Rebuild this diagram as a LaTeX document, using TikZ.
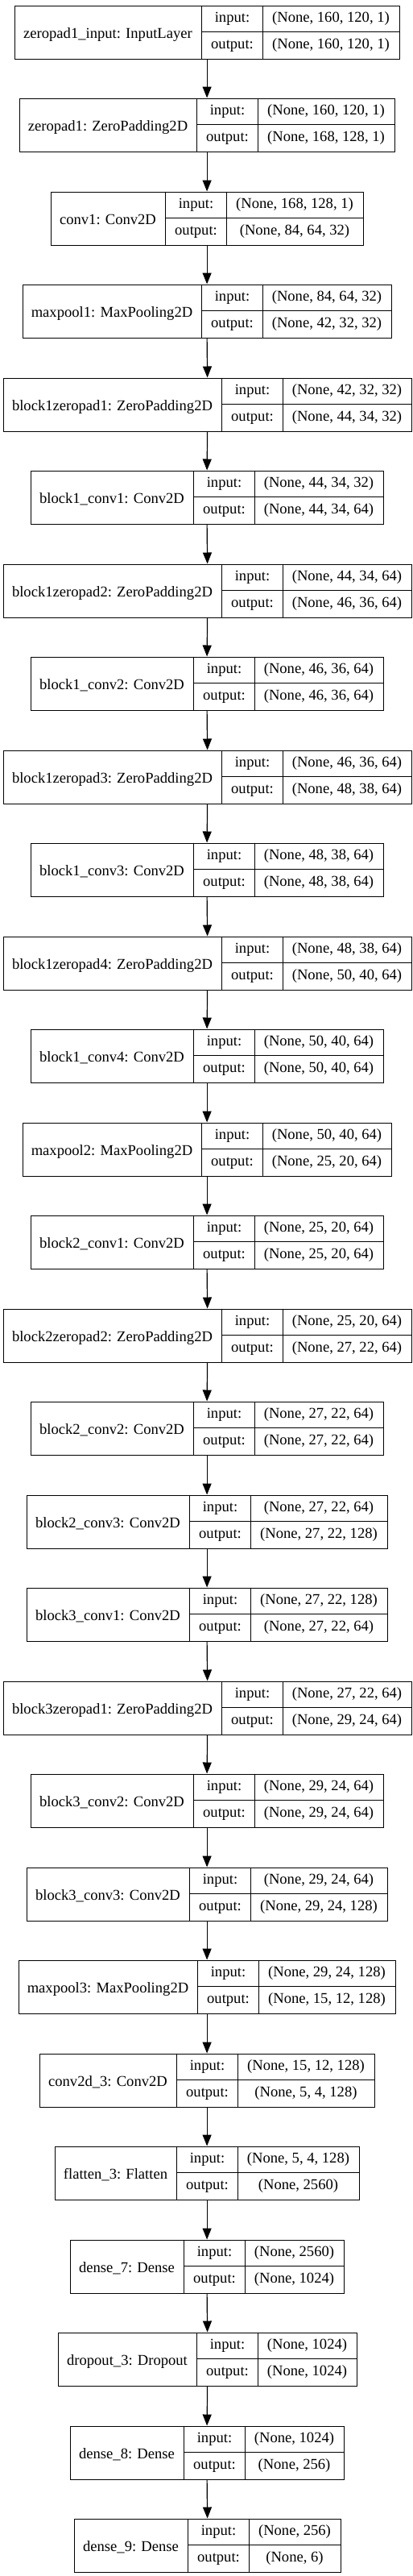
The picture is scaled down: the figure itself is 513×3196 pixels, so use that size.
\documentclass[tikz,border=0pt]{standalone}
\usepackage{fontspec}
\setmainfont{Liberation Serif}
\usetikzlibrary{arrows.meta}
\newlength\kwa \newlength\kwb \newlength\kwc \newlength\kwd
\newcommand\kf{\fontsize{18.6}{22}\selectfont}
\tikzset{
  boxline/.style={draw=black, line width=1.2pt},
  cell/.style={inner sep=0pt, font=\kf, text height=13pt, text depth=4pt, anchor=center},
  layerbox/.style={boxline, inner sep=0pt, minimum height=66pt, anchor=north west},
  flow/.style={line width=1.2pt, -{Triangle[length=14pt,width=11pt]}},
}
\newcommand{\klayer}[5]{%
  \pgfinterruptpicture%
  \setbox0\hbox{\kf #3}\global\kwa=\wd0%
  \setbox0\hbox{\kf output:}\global\kwb=\wd0%
  \setbox0\hbox{\kf #4}\global\kwc=\wd0%
  \setbox0\hbox{\kf #5}\global\kwd=\wd0%
  \endpgfinterruptpicture%
  \ifdim\kwd>\kwc \kwc=\kwd\fi%
  \pgfmathsetmacro\kA{round(\kwa+23)}%
  \pgfmathsetmacro\kB{round(\kwb+23)}%
  \pgfmathsetmacro\kC{round(\kwc+23)}%
  \pgfmathsetmacro\kW{\kA+\kB+\kC}%
  \pgfmathsetmacro\kL{round(256-\kW/2)+0.5}%
  \pgfmathsetmacro\kT{round(5.5+#2*115.5)+0.5}%
  \pgfmathsetmacro\kxa{\kL+\kA}%
  \pgfmathsetmacro\kxb{\kxa+\kB}%
  \pgfmathsetmacro\kR{\kL+\kW}%
  \node[layerbox, minimum width=\kW pt] (#1) at (\kL,\kT) {};
  \draw[boxline] (\kxa,\kT) -- (\kxa,\kT+66);
  \draw[boxline] (\kxb,\kT) -- (\kxb,\kT+66);
  \draw[boxline] (\kxa,\kT+33) -- (\kR,\kT+33);
  \node[cell] (#1-name) at ({\kL+\kA/2},\kT+36.5) {#3};
  \node[cell] (#1-ik) at ({\kxa+\kB/2},\kT+16.5) {input:};
  \node[cell] (#1-ok) at ({\kxa+\kB/2},\kT+49.5) {output:};
  \node[cell] (#1-iv) at ({\kxb+\kC/2},\kT+16.5) {#4};
  \node[cell] (#1-ov) at ({\kxb+\kC/2},\kT+49.5) {#5};
}
\begin{document}
\begin{tikzpicture}[x=1pt,y=-1pt]
\useasboundingbox (0,0) rectangle (513,3196);
\klayer{l1}{0}{zeropad1\_input: InputLayer}{(None, 160, 120, 1)}{(None, 160, 120, 1)}
\klayer{l2}{1}{zeropad1: ZeroPadding2D}{(None, 160, 120, 1)}{(None, 168, 128, 1)}
\klayer{l3}{2}{conv1: Conv2D}{(None, 168, 128, 1)}{(None, 84, 64, 32)}
\klayer{l4}{3}{maxpool1: MaxPooling2D}{(None, 84, 64, 32)}{(None, 42, 32, 32)}
\klayer{l5}{4}{block1zeropad1: ZeroPadding2D}{(None, 42, 32, 32)}{(None, 44, 34, 32)}
\klayer{l6}{5}{block1\_conv1: Conv2D}{(None, 44, 34, 32)}{(None, 44, 34, 64)}
\klayer{l7}{6}{block1zeropad2: ZeroPadding2D}{(None, 44, 34, 64)}{(None, 46, 36, 64)}
\klayer{l8}{7}{block1\_conv2: Conv2D}{(None, 46, 36, 64)}{(None, 46, 36, 64)}
\klayer{l9}{8}{block1zeropad3: ZeroPadding2D}{(None, 46, 36, 64)}{(None, 48, 38, 64)}
\klayer{l10}{9}{block1\_conv3: Conv2D}{(None, 48, 38, 64)}{(None, 48, 38, 64)}
\klayer{l11}{10}{block1zeropad4: ZeroPadding2D}{(None, 48, 38, 64)}{(None, 50, 40, 64)}
\klayer{l12}{11}{block1\_conv4: Conv2D}{(None, 50, 40, 64)}{(None, 50, 40, 64)}
\klayer{l13}{12}{maxpool2: MaxPooling2D}{(None, 50, 40, 64)}{(None, 25, 20, 64)}
\klayer{l14}{13}{block2\_conv1: Conv2D}{(None, 25, 20, 64)}{(None, 25, 20, 64)}
\klayer{l15}{14}{block2zeropad2: ZeroPadding2D}{(None, 25, 20, 64)}{(None, 27, 22, 64)}
\klayer{l16}{15}{block2\_conv2: Conv2D}{(None, 27, 22, 64)}{(None, 27, 22, 64)}
\klayer{l17}{16}{block2\_conv3: Conv2D}{(None, 27, 22, 64)}{(None, 27, 22, 128)}
\klayer{l18}{17}{block3\_conv1: Conv2D}{(None, 27, 22, 128)}{(None, 27, 22, 64)}
\klayer{l19}{18}{block3zeropad1: ZeroPadding2D}{(None, 27, 22, 64)}{(None, 29, 24, 64)}
\klayer{l20}{19}{block3\_conv2: Conv2D}{(None, 29, 24, 64)}{(None, 29, 24, 64)}
\klayer{l21}{20}{block3\_conv3: Conv2D}{(None, 29, 24, 64)}{(None, 29, 24, 128)}
\klayer{l22}{21}{maxpool3: MaxPooling2D}{(None, 29, 24, 128)}{(None, 15, 12, 128)}
\klayer{l23}{22}{conv2d\_3: Conv2D}{(None, 15, 12, 128)}{(None, 5, 4, 128)}
\klayer{l24}{23}{flatten\_3: Flatten}{(None, 5, 4, 128)}{(None, 2560)}
\klayer{l25}{24}{dense\_7: Dense}{(None, 2560)}{(None, 1024)}
\klayer{l26}{25}{dropout\_3: Dropout}{(None, 1024)}{(None, 1024)}
\klayer{l27}{26}{dense\_8: Dense}{(None, 1024)}{(None, 256)}
\klayer{l28}{27}{dense\_9: Dense}{(None, 256)}{(None, 6)}
\foreach \a/\b in {l1/l2,l2/l3,l3/l4,l4/l5,l5/l6,l6/l7,l7/l8,l8/l9,l9/l10,l10/l11,l11/l12,l12/l13,l13/l14,l14/l15,l15/l16,l16/l17,l17/l18,l18/l19,l19/l20,l20/l21,l21/l22,l22/l23,l23/l24,l24/l25,l25/l26,l26/l27,l27/l28}
  \draw[flow] (\a.south) -- (\b.north);
\end{tikzpicture}
\end{document}
